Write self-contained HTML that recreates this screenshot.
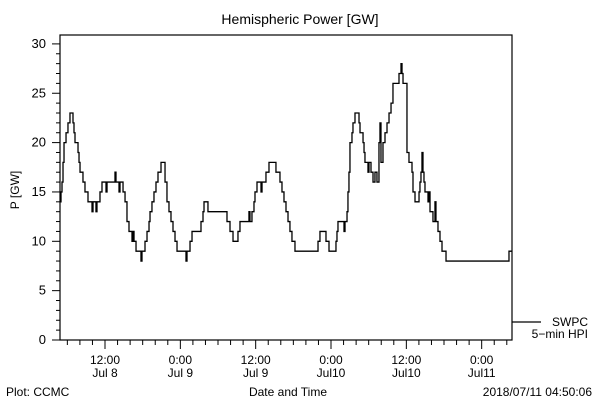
<!DOCTYPE html>
<html><head><meta charset="utf-8"><style>
body{margin:0;background:#fff;}
svg text{font-family:"Liberation Sans",sans-serif;fill:#000;}
</style></head><body>
<svg id="chart" width="600" height="400" xmlns="http://www.w3.org/2000/svg">
<rect width="600" height="400" fill="#fff"/>
<text x="300" y="24" font-size="14" text-anchor="middle">Hemispheric Power [GW]</text>
<text x="0" y="0" font-size="12" text-anchor="middle" transform="translate(19,190) rotate(-90)">P [GW]</text>
<text x="288" y="396" font-size="12" text-anchor="middle">Date and Time</text>
<text x="6" y="396" font-size="12">Plot: CCMC</text>
<text x="592" y="396" font-size="12" text-anchor="end">2018/07/11 04:50:06</text>
<g id="axes"></g>
<path id="series" fill="none" stroke="#000" stroke-width="1.3"/>
<line x1="512" y1="322" x2="541" y2="322" stroke="#000" stroke-width="1.2"/>
<text x="588" y="326" font-size="12" text-anchor="end">SWPC</text>
<text x="588" y="338" font-size="12" text-anchor="end">5−min HPI</text>
</svg>
<script>
const times=[0,0.16,0.32,0.48,0.64,0.96,1.27,1.59,2.07,2.23,2.39,2.87,3.03,3.19,3.66,3.98,4.46,5.1,5.26,5.73,5.89,6.37,6.69,7.33,7.49,8.76,8.92,9.4,9.56,10.04,10.36,10.67,10.99,11.47,11.63,11.79,12.11,12.9,13.06,13.54,13.86,14.18,14.34,14.65,14.97,15.29,15.61,16.09,16.73,17.04,17.36,17.68,18.0,18.32,18.64,20.07,20.23,20.71,21.03,22.46,22.78,22.94,23.57,26.6,27.08,27.56,28.35,28.67,30.1,30.26,30.58,30.9,31.06,31.38,32.02,32.18,32.81,33.29,34.4,35.04,35.36,35.68,36.0,36.32,36.63,36.95,37.43,41.1,41.41,42.37,42.85,43.96,44.12,44.28,45.24,45.4,45.72,45.87,46.03,46.19,46.51,46.67,46.99,47.63,47.79,48.27,48.43,48.58,49.06,49.22,49.54,49.86,50.17,50.49,50.81,50.97,51.13,51.45,51.77,52.09,52.41,52.73,53.04,54.0,54.32,54.48,54.64,55.27,55.59,56.07,56.23,56.55,57.19,57.34,57.5,57.66,57.82,57.98,58.14,58.62,58.78,58.94,59.41,59.73,59.89,60.21,60.53,60.85,61.49,71.52];
const power=[14,15,16,18,20,21,22,23,22,21,20,19,18,17,16,15,14,13,14,13,14,15,16,15,16,17,16,15,16,15,14,12,11,10,11,10,9,8,9,10,11,12,13,14,15,16,17,18,16,14,13,12,11,10,9,8,9,10,11,12,13,14,13,12,11,10,11,12,13,12,13,14,15,16,15,16,17,18,17,16,15,14,13,12,11,10,9,10,11,10,9,10,11,12,11,12,13,15,17,20,21,22,23,22,21,20,19,18,17,18,17,16,17,16,20,22,18,20,21,22,23,24,26,27,28,27,26,19,18,17,15,14,15,16,17,19,17,16,15,14,15,13,12,14,12,11,10,9,8,9];
const yTicks=[0,5,10,15,20,25,30];
const xTickHours=[7.17,19.17,31.17,43.17,55.17,67.17];
const xTickTimes=["12:00","0:00","12:00","0:00","12:00","0:00"];
const xTickDates=["Jul 8","Jul 9","Jul 9","Jul10","Jul10","Jul11"];
const X0=60,X1=512,Y0=340,Y1=35,TMAX=72,VMAX=(340-35)/9.87;
const sx=h=>X0+h/TMAX*(X1-X0);
const sy=v=>Y0-v/VMAX*(Y0-Y1);
const NS="http://www.w3.org/2000/svg";
const ax=document.getElementById('axes');
function mk(tag,attrs){const e=document.createElementNS(NS,tag);for(const k in attrs)e.setAttribute(k,attrs[k]);ax.appendChild(e);return e;}
const frame=mk('rect',{x:X0,y:Y1,width:X1-X0,height:Y0-Y1,fill:'none',stroke:'#000','stroke-width':1.2});


for(let v=0;v<=30;v++){const y=sy(v);const major=v%5===0;
 const t=mk('line',{x1:major?52:56,x2:X0,y1:y,y2:y,stroke:'#000'});
 
 }
yTicks.forEach(v=>{const t=mk('text',{x:46,y:sy(v)+4,'font-size':13,'text-anchor':'end'});t.textContent=v;
 
 });
for(let h=1.17;h<TMAX;h+=2){const x=sx(h);const major=Math.abs(((h-7.17)%12+12)%12)<0.01||Math.abs(((h-7.17)%12+12)%12-12)<0.01;
 const t=mk('line',{x1:x,x2:x,y1:Y0,y2:major?349:345,stroke:'#000'});
 
 }
xTickHours.forEach((h,i)=>{const a=mk('text',{x:sx(h),y:364,'font-size':12,'text-anchor':'middle'});a.textContent=xTickTimes[i];
 
 
 const b=mk('text',{x:sx(h),y:377,'font-size':12,'text-anchor':'middle'});b.textContent=xTickDates[i];
 
 });
let d='M'+sx(times[0])+','+sy(power[0]);
for(let i=1;i<times.length;i++){d+=' H'+sx(times[i])+' V'+sy(power[i]);}
d+=' H'+sx(TMAX);
document.getElementById('series').setAttribute('d',d);
</script>
</body></html>
